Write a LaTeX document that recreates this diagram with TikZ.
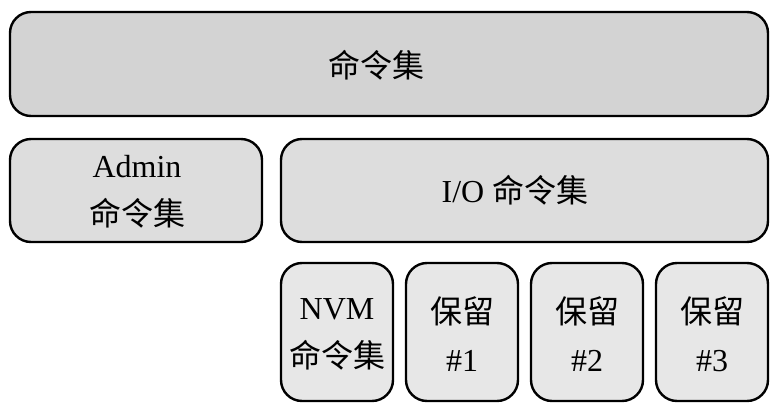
\documentclass[tikz,border=0pt]{standalone}
\usepackage{fontspec}
\setmainfont{Liberation Serif}
\newfontfamily\cjk{Noto Sans CJK SC}
\definecolor{topc}{RGB}{211,211,211}
\definecolor{midc}{RGB}{221,221,221}
\definecolor{lowc}{RGB}{231,231,231}
\begin{document}
\begin{tikzpicture}[x=1pt,y=-1pt,
  box/.style={draw, line width=2.4pt, rounded corners=21pt, inner sep=0pt},
  txt/.style={align=center, inner sep=0pt, font=\fontsize{32}{48}\selectfont}]
\useasboundingbox (0,0) rectangle (780,410);
\node[box, fill=topc, minimum width=758pt, minimum height=104pt] (cmd) at (389,64) {};
\node[txt] (cmdt) at (376,65) {\cjk 命令集};
\node[box, fill=midc, minimum width=252pt, minimum height=103pt] (adm) at (136,190.5) {};
\node[txt] (admt) at (137,192) {Admin\\{\cjk 命令集}};
\node[box, fill=midc, minimum width=487pt, minimum height=103pt] (io) at (524.5,190.5) {};
\node[txt] (iot) at (515,190) {I/O {\cjk 命令集}};
\node[box, fill=lowc, minimum width=112pt, minimum height=138pt] (nvm) at (337,332) {};
\node[txt] (nvmt) at (337,334) {NVM\\{\cjk 命令集}};
\node[box, fill=lowc, minimum width=112pt, minimum height=138pt] (r1) at (462,332) {};
\node[txt] (r1t) at (462,334) {{\cjk 保留}\\\#1};
\node[box, fill=lowc, minimum width=112pt, minimum height=138pt] (r2) at (587,332) {};
\node[txt] (r2t) at (587,334) {{\cjk 保留}\\\#2};
\node[box, fill=lowc, minimum width=112pt, minimum height=138pt] (r3) at (712,332) {};
\node[txt] (r3t) at (712,334) {{\cjk 保留}\\\#3};
\end{tikzpicture}
\end{document}
